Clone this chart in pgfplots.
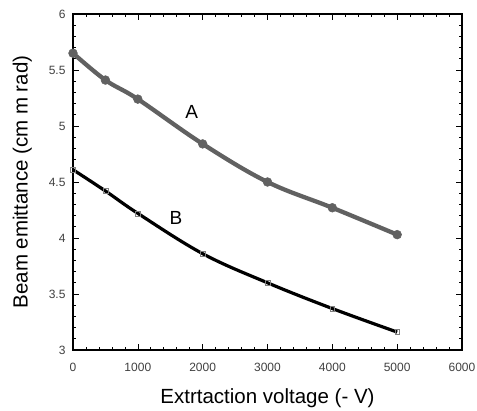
\documentclass[border=0pt]{standalone}
\usepackage{pgfplots}
\pgfplotsset{compat=1.18}
\usepackage{fontspec}
\setmainfont{Liberation Sans}

\definecolor{curveA}{gray}{0.38}
\definecolor{ticktext}{gray}{0.25}

\begin{document}
\begin{tikzpicture}
	\begin{axis}[
			scale only axis,
			width=389pt,
			height=336pt,
			xmin=0, xmax=6000,
			ymin=3, ymax=6,
			xtick={0,1000,...,6000},
			ytick={3,3.5,...,6},
			minor x tick num=4,
			minor y tick num=4,
			tick align=inside,
			major tick length=6pt,
			minor tick length=3pt,
			tick style={black, line width=0.6pt},
			axis line style={line width=1.6pt},
			scaled x ticks=false,
			/pgf/number format/assume math mode=true,
			/pgf/number format/1000 sep={},
			ticklabel style={font=\fontsize{12}{14}\selectfont, text=ticktext},
			xticklabel style={yshift=-10pt},
			yticklabel style={xshift=-4pt},
			xlabel={Extrtaction voltage (- V)},
			ylabel={Beam emittance (cm m rad)},
			label style={font=\fontsize{20.5}{22}\selectfont},
			xlabel style={yshift=-10pt},
			ylabel style={yshift=10pt},
			clip=false,
		]

		\addplot[curveA, line width=4.3pt, smooth, tension=0.6, mark=*, mark size=4.4pt,
			mark options={fill=curveA, line width=0.5pt}] coordinates {
			(0,5.65) (500,5.41) (1000,5.24) (2000,4.84) (3000,4.50) (4000,4.27) (5000,4.03)
		};
		\addplot[black, line width=3.2pt, smooth, tension=0.6, mark=square, mark size=2.4pt,
			mark options={fill=white, draw=gray, line width=0.5pt}] coordinates {
			(0,4.61) (500,4.42) (1000,4.22) (2000,3.86) (3000,3.60) (4000,3.37) (5000,3.16)
		};

		\node[font=\fontsize{19}{21}\selectfont] at (axis cs:1830,5.125) {A};
		\node[font=\fontsize{19}{21}\selectfont] at (axis cs:1590,4.18) {B};
	\end{axis}
	\pgfresetboundingbox
	\path[use as bounding box] ([shift={(-73pt,-61pt)}]current axis.south west)
		rectangle ([shift={(15pt,14pt)}]current axis.north east);
\end{tikzpicture}
\end{document}
